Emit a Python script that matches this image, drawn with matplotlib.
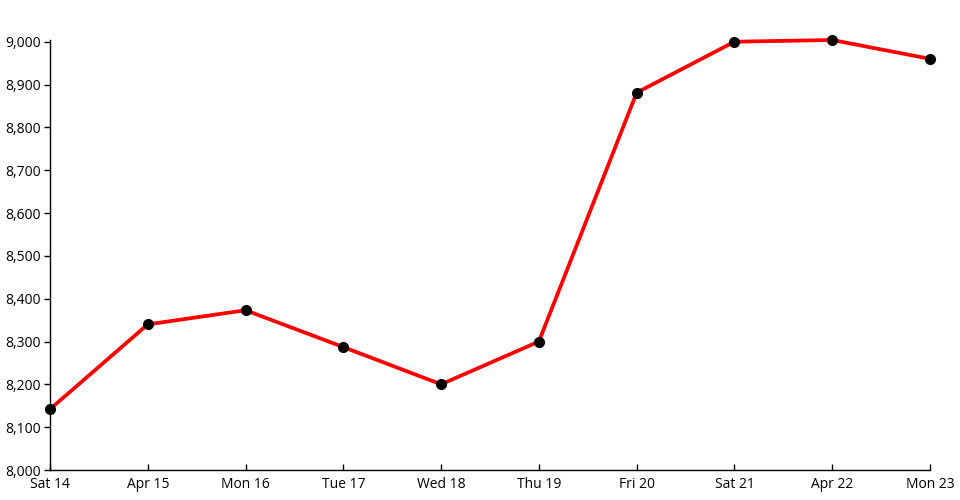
import matplotlib
matplotlib.use("Agg")
import matplotlib.pyplot as plt
from matplotlib.ticker import FuncFormatter

plt.rcParams['font.family'] = ['Open Sans', 'DejaVu Sans']

labels = ["Sat 14", "Apr 15", "Mon 16", "Tue 17", "Wed 18", "Thu 19", "Fri 20", "Sat 21", "Apr 22", "Mon 23"]
values = [8142, 8340, 8373, 8287, 8200, 8300, 8881, 9000, 9004, 8960]
x = list(range(len(labels)))

fig = plt.figure(figsize=(9.6, 5), dpi=100)
ax = fig.add_axes([50 / 960, 30 / 500, 880 / 960, 430 / 500])

ax.plot(x, values, color="#ff0000", linewidth=2.7, zorder=2, clip_on=False)
ax.plot(x, values, "o", color="black", markersize=7, zorder=3, clip_on=False)

ax.set_xlim(0, len(labels) - 1)
ax.set_ylim(8000, 9004)
ax.set_xticks(x)
ax.set_xticklabels(labels)
ax.set_yticks(range(8000, 9001, 100))
ax.yaxis.set_major_formatter(FuncFormatter(lambda v, p: f"{int(v):,}"))

for s in ["top", "right"]:
    ax.spines[s].set_visible(False)
ax.spines["left"].set_linewidth(1)
ax.spines["bottom"].set_linewidth(1)
ax.tick_params(axis="y", direction="out", length=4.5, width=1, labelsize=10, pad=2)
ax.tick_params(axis="x", direction="in", length=4.5, width=1, labelsize=10, pad=5)

fig.savefig("out.png", dpi=100)
